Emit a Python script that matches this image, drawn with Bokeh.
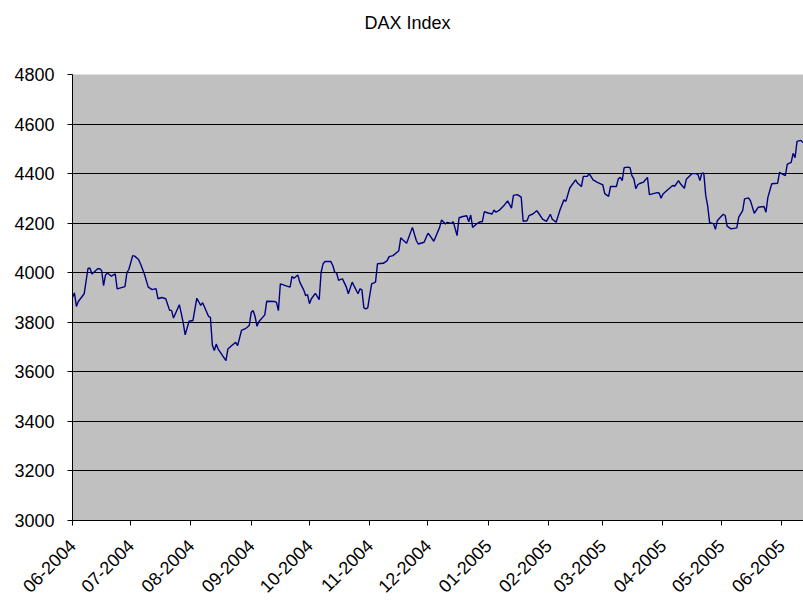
import math
from datetime import datetime
import pandas as pd
from bokeh.plotting import figure
from bokeh.models import Range1d, FixedTicker, DatetimeTickFormatter, ColumnDataSource, Title
from bokeh.embed import file_html
from bokeh.resources import INLINE

title_text = "DAX Index"

dates = [
    "2004-06-01", "2004-06-02", "2004-06-03", "2004-06-04", "2004-06-07", "2004-06-09", "2004-06-10",
    "2004-06-11", "2004-06-14", "2004-06-15", "2004-06-16", "2004-06-17", "2004-06-18", "2004-06-19",
    "2004-06-21", "2004-06-23", "2004-06-24", "2004-06-28", "2004-06-29", "2004-06-30",
    "2004-07-02", "2004-07-03", "2004-07-05", "2004-07-06", "2004-07-08", "2004-07-10", "2004-07-12",
    "2004-07-14", "2004-07-15", "2004-07-17", "2004-07-19", "2004-07-21", "2004-07-22", "2004-07-23",
    "2004-07-26", "2004-07-27", "2004-07-28", "2004-07-29", "2004-07-31",
    "2004-08-02", "2004-08-04", "2004-08-06", "2004-08-07", "2004-08-10", "2004-08-11", "2004-08-12",
    "2004-08-13", "2004-08-14", "2004-08-15", "2004-08-19", "2004-08-20", "2004-08-22", "2004-08-24",
    "2004-08-25", "2004-08-27", "2004-08-29", "2004-08-31",
    "2004-09-01", "2004-09-02", "2004-09-03", "2004-09-04", "2004-09-05", "2004-09-08", "2004-09-09",
    "2004-09-13", "2004-09-14", "2004-09-15", "2004-09-16", "2004-09-19", "2004-09-21", "2004-09-22",
    "2004-09-23", "2004-09-25", "2004-09-26", "2004-09-28", "2004-09-29", "2004-09-30",
    "2004-10-01", "2004-10-02", "2004-10-04", "2004-10-06", "2004-10-07", "2004-10-08", "2004-10-09",
    "2004-10-12", "2004-10-13", "2004-10-14", "2004-10-15", "2004-10-16", "2004-10-17", "2004-10-18",
    "2004-10-20", "2004-10-21", "2004-10-23", "2004-10-24", "2004-10-26", "2004-10-27", "2004-10-28",
    "2004-10-29", "2004-10-30", "2004-10-31",
    "2004-11-01", "2004-11-02", "2004-11-04", "2004-11-05", "2004-11-08", "2004-11-10", "2004-11-11",
    "2004-11-13", "2004-11-16", "2004-11-17", "2004-11-18", "2004-11-20", "2004-11-23", "2004-11-25",
    "2004-11-26", "2004-11-29",
    "2004-12-01", "2004-12-02", "2004-12-04", "2004-12-07", "2004-12-08", "2004-12-10", "2004-12-11",
    "2004-12-13", "2004-12-14", "2004-12-16", "2004-12-17", "2004-12-19", "2004-12-21", "2004-12-22",
    "2004-12-23", "2004-12-24", "2004-12-26", "2004-12-28", "2004-12-29", "2004-12-30",
    "2005-01-01", "2005-01-03", "2005-01-04", "2005-01-05", "2005-01-07", "2005-01-09", "2005-01-11",
    "2005-01-13", "2005-01-14", "2005-01-16", "2005-01-18", "2005-01-19", "2005-01-21", "2005-01-22",
    "2005-01-24", "2005-01-26", "2005-01-27", "2005-01-29", "2005-01-31",
    "2005-02-02", "2005-02-03", "2005-02-05", "2005-02-07", "2005-02-09", "2005-02-10", "2005-02-12",
    "2005-02-15", "2005-02-16", "2005-02-18", "2005-02-19", "2005-02-21", "2005-02-22", "2005-02-24",
    "2005-02-26",
    "2005-03-01", "2005-03-02", "2005-03-04", "2005-03-05", "2005-03-08", "2005-03-09", "2005-03-10",
    "2005-03-11", "2005-03-12", "2005-03-14", "2005-03-15", "2005-03-16", "2005-03-17", "2005-03-18",
    "2005-03-19", "2005-03-20", "2005-03-22", "2005-03-24", "2005-03-25", "2005-03-27", "2005-03-29",
    "2005-03-30", "2005-03-31",
    "2005-04-01", "2005-04-03", "2005-04-06", "2005-04-07", "2005-04-09", "2005-04-10", "2005-04-12",
    "2005-04-13", "2005-04-16", "2005-04-18", "2005-04-19", "2005-04-20", "2005-04-21", "2005-04-22",
    "2005-04-23", "2005-04-24", "2005-04-25", "2005-04-27", "2005-04-28", "2005-04-29",
    "2005-05-02", "2005-05-03", "2005-05-04", "2005-05-06", "2005-05-09", "2005-05-10", "2005-05-12",
    "2005-05-13", "2005-05-15", "2005-05-16", "2005-05-18", "2005-05-20", "2005-05-23", "2005-05-24",
    "2005-05-25", "2005-05-27", "2005-05-30", "2005-05-31",
    "2005-06-01", "2005-06-03", "2005-06-04", "2005-06-06", "2005-06-07", "2005-06-08", "2005-06-09",
    "2005-06-11", "2005-06-12",
]

values = [
    3900, 3919, 3864, 3884, 3915, 4018, 4018,
    3995, 4016, 4016, 4009, 3948, 3991, 3999,
    3986, 3995, 3935, 3944, 4000, 4013,
    4069, 4067, 4053, 4036, 3995, 3942, 3932,
    3936, 3895, 3900, 3895, 3848, 3848, 3817,
    3871, 3836, 3798, 3749, 3804,
    3807, 3897, 3868, 3879, 3824, 3820, 3708,
    3686, 3712, 3692, 3645, 3692, 3706, 3719,
    3706, 3767, 3774, 3787,
    3840, 3847, 3823, 3784, 3803, 3830, 3885,
    3884, 3880, 3847, 3955, 3947, 3942, 3985,
    3978, 3991, 3962, 3931, 3908, 3912,
    3875, 3895, 3917, 3891, 4002, 4036, 4045,
    4045, 4029, 4002, 3998, 3969, 3973, 3975,
    3942, 3915, 3962, 3946, 3915, 3935, 3931,
    3858, 3854, 3858,
    3908, 3955, 3962, 4036, 4038, 4049, 4065,
    4069, 4089, 4141, 4133, 4119, 4183, 4130,
    4116, 4123,
    4159, 4150, 4127, 4183, 4213, 4197, 4203,
    4199, 4206, 4150, 4222, 4227, 4230, 4206,
    4233, 4183, 4197, 4206, 4206, 4246,
    4241, 4237, 4253, 4244, 4254, 4270, 4290,
    4261, 4312, 4315, 4305, 4208, 4210, 4230,
    4237, 4250, 4240, 4216, 4207,
    4236, 4216, 4204, 4254, 4294, 4288, 4342,
    4375, 4362, 4348, 4389, 4389, 4400, 4375,
    4366,
    4355, 4319, 4308, 4348, 4348, 4379, 4385,
    4372, 4424, 4426, 4424, 4392, 4379, 4339,
    4355, 4360, 4366, 4385, 4315, 4319, 4323,
    4322, 4301,
    4318, 4332, 4352, 4349, 4372, 4359, 4341,
    4377, 4400, 4400, 4396, 4372, 4402, 4402,
    4312, 4270, 4202, 4198, 4175, 4211,
    4236, 4231, 4188, 4177, 4181, 4224, 4251,
    4298, 4302, 4291, 4240, 4264, 4267, 4244,
    4304, 4359, 4361, 4405,
    4400, 4392, 4438, 4445, 4482, 4464, 4530,
    4534, 4525,
]

y_ticks = [3000, 3200, 3400, 3600, 3800, 4000, 4200, 4400, 4600, 4800]
month_ticks = [
    "2004-06-01", "2004-07-01", "2004-08-01", "2004-09-01", "2004-10-01", "2004-11-01", "2004-12-01",
    "2005-01-01", "2005-02-01", "2005-03-01", "2005-04-01", "2005-05-01", "2005-06-01",
]

src = ColumnDataSource(dict(x=pd.to_datetime(dates), y=values))

FONT = "Liberation Sans"

p = figure(
    width=803, height=601,
    x_axis_type="datetime",
    output_backend="svg", toolbar_location=None,
    x_range=Range1d(datetime(2004, 6, 1), datetime(2005, 6, 12, 8)),
    y_range=Range1d(3000, 4800),
    min_border_left=72, min_border_right=0, min_border_top=74, min_border_bottom=81,
)

# spacer between title and plot area (sits next to the frame)
p.add_layout(Title(text=" ", text_font=FONT, text_font_size="18px", standoff=18), "above")

p.title.text = title_text
p.title.align = "left"
p.title.offset = 292
p.title.vertical_align = "top"
p.title.standoff = 0
p.title.text_font = FONT
p.title.text_font_size = "18px"
p.title.text_font_style = "normal"
p.title.text_color = "black"

p.background_fill_color = "#C0C0C0"
p.border_fill_color = "white"
p.outline_line_color = None

p.line("x", "y", source=src, line_color="#000080", line_width=1.4)

p.yaxis.ticker = FixedTicker(ticks=y_ticks)
p.xaxis.ticker = FixedTicker(ticks=[pd.Timestamp(d).value // 10**6 for d in month_ticks])
fmt = "%m-%Y"
p.xaxis.formatter = DatetimeTickFormatter(
    milliseconds=fmt, seconds=fmt, minsec=fmt, minutes=fmt, hourmin=fmt,
    hours=fmt, days=fmt, months=fmt, years=fmt,
)
p.xaxis.major_label_orientation = math.pi / 4

for ax in (p.xaxis, p.yaxis):
    ax.axis_line_color = "black"
    ax.axis_line_width = 1
    ax.major_tick_line_color = "black"
    ax.major_tick_in = 0
    ax.major_tick_out = 5
    ax.minor_tick_line_color = None
    ax.major_label_text_font = FONT
    ax.major_label_text_font_size = "18px"
    ax.major_label_text_color = "black"

p.yaxis.major_label_standoff = 13
p.xaxis.major_label_standoff = 17

p.xgrid.grid_line_color = None
p.ygrid.grid_line_color = "black"
p.ygrid.grid_line_width = 1

open("out.html", "w").write(file_html(p, INLINE))
